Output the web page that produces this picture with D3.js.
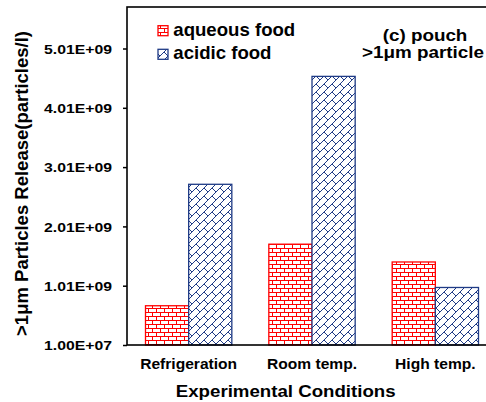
<!DOCTYPE html>
<html><head><meta charset="utf-8">
<script src="https://cdn.jsdelivr.net/npm/d3@7"></script>
<style>body{margin:0;background:#fff}svg{display:block}text{font-family:"Liberation Sans",Arial,sans-serif;font-weight:bold;fill:#000}</style>
</head><body>
<svg id="c" width="486" height="402"></svg>
<script>
const categories = ["Refrigeration", "Room temp.", "High temp."];
const seriesNames = ["aqueous food", "acidic food"];
const aqueous = [6.72e8, 1.71e9, 1.41e9];
const acidic = [2.72e9, 4.54e9, 9.8e8];
const yTicks = [1e7, 1.01e9, 2.01e9, 3.01e9, 4.01e9, 5.01e9];
const yTickLabels = ["1.00E+07", "1.01E+09", "2.01E+09", "3.01E+09", "4.01E+09", "5.01E+09"];
const yTitle = ">1\u03bcm Particles Release(particles/l)";
const xTitle = "Experimental Conditions";
const note = ["(c) pouch", ">1\u03bcm particle"];

const svg = d3.select("#c");
const L = 127, R = 497, T = 7, B = 345;
const red = "#ff0000", navy = "#1f3b86";

const defs = svg.append("defs");
// horizontal brick pattern
const brick = ["11111111","10000000","10000000","10000000","11111111","00001000","00001000","00001000"];
const dbrick = ["00000001","00000010","00000100","00001000","00011000","00100100","01000010","10000001"];
function makePattern(id, bits, color) {
  const p = defs.append("pattern").attr("id", id).attr("patternUnits", "userSpaceOnUse")
    .attr("width", 8).attr("height", 8);
  p.append("rect").attr("width", 8).attr("height", 8).attr("fill", "#fff");
  bits.forEach((row, r) => row.split("").forEach((b, c) => {
    if (b === "1") p.append("rect").attr("x", c).attr("y", r).attr("width", 1).attr("height", 1)
      .attr("fill", color).attr("shape-rendering", "crispEdges");
  }));
}
makePattern("pa", brick, red);
makePattern("pb", dbrick, navy);
const fills = ["url(#pa)", "url(#pb)"];
const strokes = [red, navy];

const x0 = d3.scaleBand().domain(categories).range([L, R]).paddingInner(0.3).paddingOuter(0.15);
const x1 = d3.scaleBand().domain(seriesNames).range([0, x0.bandwidth()]);
const y = d3.scaleLinear().domain([1e7, 5.71e9]).range([B, T]);

const data = categories.map((c, i) => ({c, v: [aqueous[i], acidic[i]]}));
const g = svg.append("g");
data.forEach(d => {
  d.v.forEach((v, j) => {
    g.append("rect")
      .attr("x", x0(d.c) + x1(seriesNames[j]))
      .attr("y", y(v))
      .attr("width", x1.bandwidth())
      .attr("height", y(1e7) - y(v))
      .attr("fill", fills[j]).attr("stroke", strokes[j]).attr("stroke-width", 1.3);
  });
});

// frame
svg.append("rect").attr("x", L).attr("y", T).attr("width", R - L).attr("height", B - T)
  .attr("fill", "none").attr("stroke", "#000").attr("stroke-width", 1.6);

function stretch(sel, target) {
  const n = sel.node();
  const len = n.getComputedTextLength();
  return target / len;
}

// y axis
const ya = svg.append("g").attr("transform", `translate(${L},0)`)
  .call(d3.axisLeft(y).tickValues(yTicks).tickFormat((d, i) => yTickLabels[i]).tickSize(4).tickSizeOuter(0));
ya.select(".domain").remove();
ya.selectAll(".tick line").attr("stroke", "#000").attr("stroke-width", 1.5);
ya.selectAll(".tick text").attr("font-size", 13).attr("font-family", null).attr("x", null).attr("dy", "0.36em");
const syk = stretch(ya.select(".tick text"), 68);
ya.selectAll(".tick text").attr("transform", `translate(-15,0) scale(${syk},1)`);

// x labels
const xl = svg.append("g");
const xt = xl.selectAll("text").data(categories).join("text")
  .attr("font-size", 14).attr("text-anchor", "middle").text(d => d);
const sxl = stretch(xt.filter((d, i) => i === 0), 97);
xt.attr("transform", d => `translate(${x0(d) + x0.bandwidth() / 2},369) scale(${sxl},1)`);

// x title
const xtt = svg.append("text").attr("font-size", 16).attr("text-anchor", "middle").text(xTitle);
const sxt = stretch(xtt, 220);
xtt.attr("transform", `translate(285.7,396.5) scale(${sxt},1)`);

// y title
svg.append("text").attr("font-size", 18.5).attr("text-anchor", "middle")
  .attr("transform", "translate(28,183.5) rotate(-90)").text(yTitle);

// note
const n1 = svg.append("text").attr("font-size", 16).attr("text-anchor", "middle").text(note[0]);
const n2 = svg.append("text").attr("font-size", 16).attr("text-anchor", "middle").text(note[1]);
const sn = stretch(n2, 122);
n1.attr("transform", `translate(425,41) scale(${sn},1)`);
n2.attr("transform", `translate(423,57.5) scale(${sn},1)`);

// legend
const lg = svg.append("g");
const rowsY = [25.7, 49.3];
seriesNames.forEach((s, j) => {
  lg.append("rect").attr("x", 158).attr("y", rowsY[j]).attr("width", 10).attr("height", 10)
    .attr("fill", fills[j]).attr("stroke", strokes[j]).attr("stroke-width", 1.3);
});
const lt = lg.selectAll("text.lt").data(seriesNames).join("text").attr("class", "lt")
  .attr("font-size", 18).text(d => d);
const sl = stretch(lt.filter((d, i) => i === 0), 122);
lt.attr("transform", (d, j) => `translate(173.3,${[35.5, 59][j]}) scale(${sl},1)`);
</script>
</body></html>
